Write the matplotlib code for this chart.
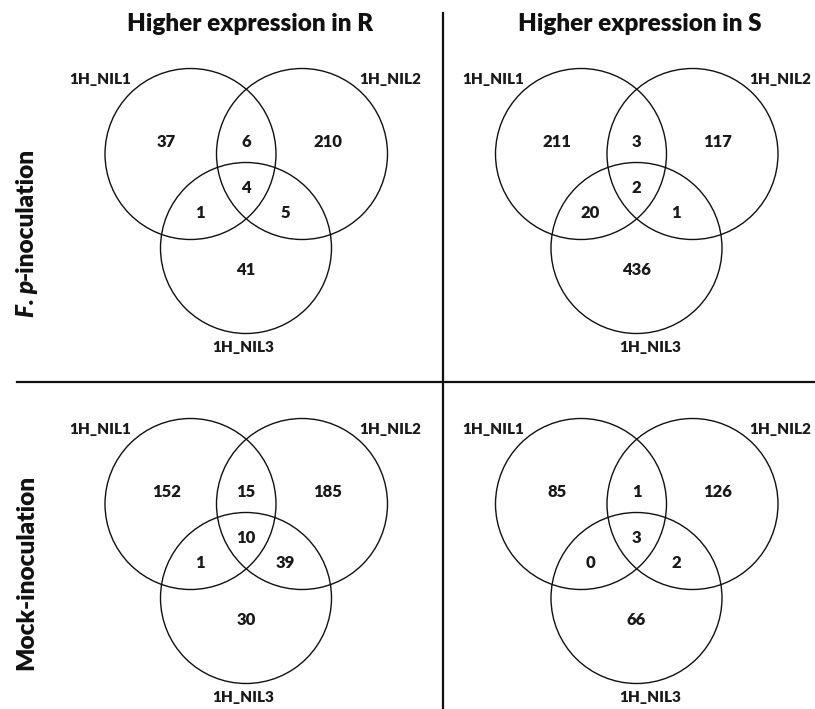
import matplotlib
matplotlib.use("Agg")
import matplotlib.pyplot as plt
from matplotlib.patches import Circle

# Set names and panel titles
set_names = ["1H_NIL1", "1H_NIL2", "1H_NIL3"]
column_titles = ["Higher expression in R", "Higher expression in S"]
row_titles = [("F. p", "-inoculation"), ("", "Mock-inoculation")]

# Region counts per panel, ordered: only1, only2, only3, 1&2, 1&3, 2&3, 1&2&3
fp_R = [37, 210, 41, 6, 1, 5, 4]
fp_S = [211, 117, 436, 3, 20, 1, 2]
mock_R = [152, 185, 30, 15, 1, 39, 10]
mock_S = [85, 126, 66, 1, 0, 2, 3]
panel_counts = [fp_R, fp_S, mock_R, mock_S]

# ---- layout (pixel coordinates, y downward) ----
W, H = 815, 709
panel_c1 = [(190.5, 154), (581, 154), (190.5, 504), (581, 504)]   # centre of set-1 circle
circle_offsets = [(0, 0), (111.5, 0), (55.5, 94)]
radius = 85.5
region_offsets = [(-24, -12), (137, -12), (55.5, 116),
                  (55.5, -12), (9, 59), (95, 59), (55.5, 34)]
label_offsets_left = [(-90, -74), (200, -74), (53, 193)]
label_offsets_right = [(-88, -74), (199, -74), (69, 193)]

FONT = "Lato"
INK = "#111111"
fig = plt.figure(figsize=(W / 100, H / 100), dpi=100)
ax = fig.add_axes([0, 0, 1, 1])
ax.set_xlim(0, W)
ax.set_ylim(H, 0)
ax.set_aspect("equal")
ax.axis("off")

for p, (counts, (x1, y1)) in enumerate(zip(panel_counts, panel_c1)):
    for dx, dy in circle_offsets:
        ax.add_patch(Circle((x1 + dx, y1 + dy), radius, fill=False,
                            edgecolor=INK, linewidth=1.0))
    for val, (dx, dy) in zip(counts, region_offsets):
        ax.text(x1 + dx, y1 + dy, str(val), ha="center", va="center",
                fontsize=12, fontweight="heavy", family=FONT, color="#1a1a1a")
    offs = label_offsets_left if p % 2 == 0 else label_offsets_right
    for name, (dx, dy) in zip(set_names, offs):
        ax.text(x1 + dx, y1 + dy, name, ha="center", va="center",
                fontsize=11, fontweight="heavy", family=FONT, color="#1a1a1a")

# Column titles
for x, t in zip([250, 640], column_titles):
    ax.text(x, 24, t, ha="center", va="center", fontsize=17.5,
            fontweight="heavy", family=FONT, color=INK)

# Row titles (rotated)
ax.text(26, 280, row_titles[0][0], rotation=90, ha="center", va="top",
        fontsize=17.6, fontweight="heavy", fontstyle="italic", family=FONT,
        color=INK)
ax.text(26, 280, row_titles[0][1], rotation=90, ha="center", va="bottom",
        fontsize=17.6, fontweight="heavy", family=FONT, color=INK)
ax.text(26, 572, row_titles[1][1], rotation=90, ha="center", va="center",
        fontsize=17.6, fontweight="heavy", family=FONT, color=INK)

# Quadrant dividers
ax.plot([443, 443], [13, H], color=INK, linewidth=1.6)
ax.plot([17, W], [382, 382], color=INK, linewidth=1.6)

fig.savefig("out.png", dpi=100)
